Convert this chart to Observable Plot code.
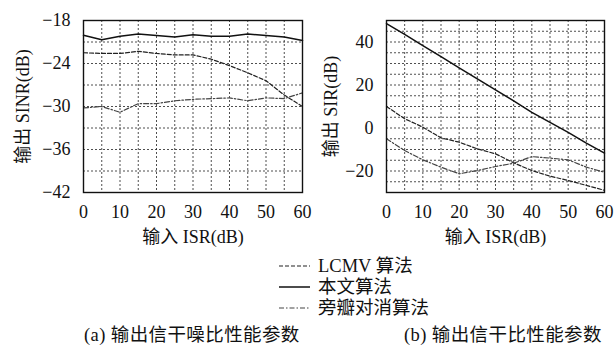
<!DOCTYPE html>
<html><head><meta charset="utf-8">
<script src="https://cdn.jsdelivr.net/npm/d3@7"></script>
<script src="https://cdn.jsdelivr.net/npm/@observablehq/plot@0.6"></script>
<style>
body{margin:0;background:#fff;width:616px;height:349px;position:relative;overflow:hidden;font-family:"Liberation Serif","Noto Sans CJK SC",serif;color:#111}
#a,#b{position:absolute;top:0}
#a{left:0}#b{left:308px}
#a svg,#b svg{overflow:visible}
#a svg text,#b svg text{font-size:18px !important}
.cap{position:absolute;font-size:18.5px;letter-spacing:0.4px;white-space:nowrap;line-height:20px}
#legend{position:absolute;left:276px;top:254px}
</style></head><body>
<div id="a"></div><div id="b"></div>
<div id="legend"></div>
<div class="cap" style="left:84px;top:325px">(a) 输出信干噪比性能参数</div>
<div class="cap" style="left:404px;top:325px">(b) 输出信干比性能参数</div>
<script>
const isr = [0,5,10,15,20,25,30,35,40,45,50,55,60];
const sinrProposed = [-20.05,-20.7,-20.2,-19.9,-20.1,-20.3,-20.0,-20.2,-20.2,-19.9,-20.1,-20.3,-20.8];
const sinrLCMV = [-22.5,-22.6,-22.6,-22.3,-22.6,-22.8,-22.8,-23.4,-24.3,-25.3,-26.4,-28.4,-30.0];
const sinrSLC = [-30.2,-30.0,-30.8,-29.6,-29.6,-29.2,-29.0,-28.9,-28.8,-29.2,-28.8,-28.9,-28.1];
const sirProposed = [48.5,43.5,38.3,33.2,28.0,22.8,17.7,12.6,7.3,2.6,-2.0,-7.0,-11.7];
const sirLCMV = [10.0,4.3,0.4,-4.6,-6.6,-9.7,-12.0,-16.2,-19.8,-22.4,-24.4,-26.7,-29.0];
const sirSLC = [-5.0,-10.5,-14.8,-18.2,-21.3,-19.8,-17.9,-16.4,-13.3,-14.0,-14.8,-18.2,-20.6];
const xTicks = [0,10,20,30,40,50,60];
const xGrid = [5,10,15,20,25,30,35,40,45,50,55];
const sinrTicks = [-18,-24,-30,-36,-42];
const sinrGrid = [-21,-24,-27,-30,-33,-36,-39];
const sirTicks = [40,20,0,-20];
const sirGrid = [45,40,35,30,25,20,15,10,5,0,-5,-10,-15,-20,-25];
const methods = ["LCMV 算法","本文算法","旁瓣对消算法"];

const FONT = '"Liberation Serif","Noto Sans CJK SC",serif';
const styles = {
  "本文算法": {stroke:"#111", strokeWidth:1.5},
  "LCMV 算法": {stroke:"#222", strokeWidth:1.2, strokeDasharray:"4,2"},
  "旁瓣对消算法": {stroke:"#444", strokeWidth:1.2, strokeDasharray:"5,2,1.5,2"}
};
function rows(ys){return isr.map((x,i)=>({x,y:ys[i]}));}

function chart({series, yDomain, yTicks, yGrid, yLabel, marginLeft, marginRight}){
  return Plot.plot({
    width:308, height:248,
    marginLeft, marginRight, marginTop:20, marginBottom:56,
    style:{fontFamily:FONT, fontSize:"18px", color:"#111", background:"transparent", overflow:"visible"},
    x:{domain:[0,60]},
    y:{domain:yDomain},
    marks:[
      Plot.ruleX(xGrid,{stroke:"#222",strokeWidth:0.8,strokeDasharray:"2,2"}),
      Plot.ruleY(yGrid,{stroke:"#222",strokeWidth:0.8,strokeDasharray:"2,2"}),
      ...series.map(([name,ys])=>Plot.line(rows(ys),{x:"x",y:"y",...styles[name]})),
      Plot.frame({stroke:"#111",strokeWidth:1.4}),
      Plot.axisX({ticks:xTicks,tickSize:0,tickPadding:13,tickFormat:d=>String(d),
        label:"输入 ISR(dB)",labelAnchor:"center",labelArrow:"none",labelOffset:50}),
      Plot.axisY({ticks:yTicks,tickSize:0,tickPadding:13,tickFormat:d=>(d<0?"\u2212"+(-d):String(d)),
        label:yLabel,labelAnchor:"center",labelArrow:"none",labelOffset:marginLeft-16})
    ]
  });
}

document.getElementById("a").append(chart({
  series:[["LCMV 算法",sinrLCMV],["本文算法",sinrProposed],["旁瓣对消算法",sinrSLC]],
  yDomain:[-42,-18], yTicks:sinrTicks, yGrid:sinrGrid, yLabel:"输出 SINR(dB)",
  marginLeft:83, marginRight:6
}));
document.getElementById("b").append(chart({
  series:[["LCMV 算法",sirLCMV],["本文算法",sirProposed],["旁瓣对消算法",sirSLC]],
  yDomain:[-30,50], yTicks:sirTicks, yGrid:sirGrid, yLabel:"输出 SIR(dB)",
  marginLeft:78, marginRight:12
}));

// legend
const lg = d3.select("#legend").append("svg").attr("width",220).attr("height",66)
  .style("font-family",FONT).style("font-size","18.5px");
methods.forEach((m,i)=>{
  const y = 12 + i*21;
  const s = styles[m];
  lg.append("line").attr("x1",3).attr("x2",34).attr("y1",y).attr("y2",y)
    .attr("stroke",s.stroke).attr("stroke-width",s.strokeWidth)
    .attr("stroke-dasharray",s.strokeDasharray||null);
  lg.append("text").attr("x",42).attr("y",y).attr("dy","0.35em").attr("fill","#111").text(m);
});
</script>
</body></html>
